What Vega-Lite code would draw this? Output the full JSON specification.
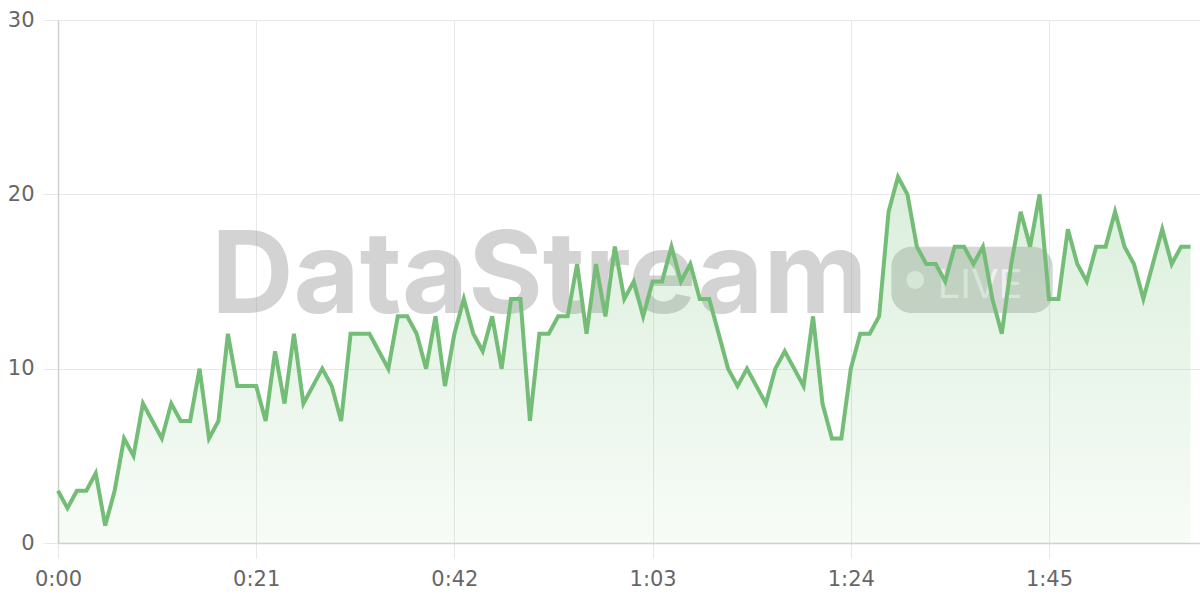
{
  "$schema": "https://vega.github.io/schema/vega-lite/v6.json",
  "width": 1142,
  "height": 523,
  "autosize": "none",
  "padding": {"left": 58, "top": 20, "right": 0, "bottom": 57},
  "background": "white",
  "config": {
    "view": {"stroke": null},
    "axis": {
      "gridColor": "#e8e8e8",
      "gridWidth": 1,
      "domainColor": "#d0d0d0",
      "domainWidth": 1.5,
      "tickColor": "#e8e8e8",
      "tickSize": 15,
      "tickWidth": 1,
      "labelFont": "DejaVu Sans",
      "labelFontSize": 21,
      "labelColor": "#666666",
      "labelFlush": false,
      "title": null
    }
  },
  "datasets": {
    "series": [
      {"t": 0, "v": 3}, {"t": 1, "v": 2}, {"t": 2, "v": 3}, {"t": 3, "v": 3}, {"t": 4, "v": 4},
      {"t": 5, "v": 1}, {"t": 6, "v": 3}, {"t": 7, "v": 6}, {"t": 8, "v": 5}, {"t": 9, "v": 8},
      {"t": 10, "v": 7}, {"t": 11, "v": 6}, {"t": 12, "v": 8}, {"t": 13, "v": 7}, {"t": 14, "v": 7},
      {"t": 15, "v": 10}, {"t": 16, "v": 6}, {"t": 17, "v": 7}, {"t": 18, "v": 12}, {"t": 19, "v": 9},
      {"t": 20, "v": 9}, {"t": 21, "v": 9}, {"t": 22, "v": 7}, {"t": 23, "v": 11}, {"t": 24, "v": 8},
      {"t": 25, "v": 12}, {"t": 26, "v": 8}, {"t": 27, "v": 9}, {"t": 28, "v": 10}, {"t": 29, "v": 9},
      {"t": 30, "v": 7}, {"t": 31, "v": 12}, {"t": 32, "v": 12}, {"t": 33, "v": 12}, {"t": 34, "v": 11},
      {"t": 35, "v": 10}, {"t": 36, "v": 13}, {"t": 37, "v": 13}, {"t": 38, "v": 12}, {"t": 39, "v": 10},
      {"t": 40, "v": 13}, {"t": 41, "v": 9}, {"t": 42, "v": 12}, {"t": 43, "v": 14}, {"t": 44, "v": 12},
      {"t": 45, "v": 11}, {"t": 46, "v": 13}, {"t": 47, "v": 10}, {"t": 48, "v": 14}, {"t": 49, "v": 14},
      {"t": 50, "v": 7}, {"t": 51, "v": 12}, {"t": 52, "v": 12}, {"t": 53, "v": 13}, {"t": 54, "v": 13},
      {"t": 55, "v": 16}, {"t": 56, "v": 12}, {"t": 57, "v": 16}, {"t": 58, "v": 13}, {"t": 59, "v": 17},
      {"t": 60, "v": 14}, {"t": 61, "v": 15}, {"t": 62, "v": 13}, {"t": 63, "v": 15}, {"t": 64, "v": 15},
      {"t": 65, "v": 17}, {"t": 66, "v": 15}, {"t": 67, "v": 16}, {"t": 68, "v": 14}, {"t": 69, "v": 14},
      {"t": 70, "v": 12}, {"t": 71, "v": 10}, {"t": 72, "v": 9}, {"t": 73, "v": 10}, {"t": 74, "v": 9},
      {"t": 75, "v": 8}, {"t": 76, "v": 10}, {"t": 77, "v": 11}, {"t": 78, "v": 10}, {"t": 79, "v": 9},
      {"t": 80, "v": 13}, {"t": 81, "v": 8}, {"t": 82, "v": 6}, {"t": 83, "v": 6}, {"t": 84, "v": 10},
      {"t": 85, "v": 12}, {"t": 86, "v": 12}, {"t": 87, "v": 13}, {"t": 88, "v": 19}, {"t": 89, "v": 21},
      {"t": 90, "v": 20}, {"t": 91, "v": 17}, {"t": 92, "v": 16}, {"t": 93, "v": 16}, {"t": 94, "v": 15},
      {"t": 95, "v": 17}, {"t": 96, "v": 17}, {"t": 97, "v": 16}, {"t": 98, "v": 17}, {"t": 99, "v": 14},
      {"t": 100, "v": 12}, {"t": 101, "v": 16}, {"t": 102, "v": 19}, {"t": 103, "v": 17}, {"t": 104, "v": 20},
      {"t": 105, "v": 14}, {"t": 106, "v": 14}, {"t": 107, "v": 18}, {"t": 108, "v": 16}, {"t": 109, "v": 15},
      {"t": 110, "v": 17}, {"t": 111, "v": 17}, {"t": 112, "v": 19}, {"t": 113, "v": 17}, {"t": 114, "v": 16},
      {"t": 115, "v": 14}, {"t": 116, "v": 16}, {"t": 117, "v": 18}, {"t": 118, "v": 16}, {"t": 119, "v": 17},
      {"t": 120, "v": 17}
    ],
    "brand": [{"name": "DataStream", "badge": "LIVE"}]
  },
  "layer": [
    {
      "data": {"name": "brand"},
      "mark": {"type": "text", "font": "Inter", "fontWeight": 700, "fontSize": 114, "align": "center", "baseline": "alphabetic", "fill": "#888888", "opacity": 0.36, "letterSpacing": -1},
      "encoding": {
        "x": {"datum": 51, "type": "quantitative"},
        "y": {"datum": 13.2, "type": "quantitative"},
        "text": {"field": "name"}
      }
    },
    {
      "data": {"name": "brand"},
      "mark": {"type": "rect", "cornerRadius": 20, "fill": "#888888", "opacity": 0.34},
      "encoding": {
        "x": {"datum": 88.3, "type": "quantitative"},
        "x2": {"datum": 105.4},
        "y": {"datum": 17.0, "type": "quantitative"},
        "y2": {"datum": 13.2}
      }
    },
    {
      "data": {"name": "brand"},
      "mark": {"type": "point", "shape": "circle", "filled": true, "fill": "#ffffff", "opacity": 0.6, "size": 320, "strokeWidth": 0},
      "encoding": {
        "x": {"datum": 90.83, "type": "quantitative"},
        "y": {"datum": 15.09, "type": "quantitative"}
      }
    },
    {
      "data": {"name": "brand"},
      "mark": {"type": "text", "font": "Inter", "fontWeight": 400, "fontSize": 40, "align": "left", "baseline": "alphabetic", "fill": "#ffffff", "opacity": 0.62, "letterSpacing": 9},
      "encoding": {
        "x": {"datum": 93.2, "type": "quantitative"},
        "y": {"datum": 14.05, "type": "quantitative"},
        "text": {"field": "badge"}
      }
    },
    {
      "data": {"name": "series"},
      "mark": {
        "type": "area",
        "color": {
          "gradient": "linear",
          "x1": 0, "y1": 0, "x2": 0, "y2": 1,
          "stops": [
            {"offset": 0, "color": "rgba(102,187,106,0.24)"},
            {"offset": 1, "color": "rgba(102,187,106,0.05)"}
          ]
        }
      },
      "encoding": {
        "x": {
          "field": "t", "type": "quantitative",
          "scale": {"domain": [0, 121], "nice": false, "zero": false},
          "axis": {
            "values": [0, 21, 42, 63, 84, 105],
            "labelExpr": "floor(datum.value / 60) + ':' + (datum.value % 60 < 10 ? '0' : '') + (datum.value % 60)",
            "labelPadding": 10,
            "grid": true
          }
        },
        "y": {
          "field": "v", "type": "quantitative",
          "scale": {"domain": [0, 30], "nice": false},
          "axis": {"values": [0, 10, 20, 30], "labelPadding": 9, "grid": true}
        }
      }
    },
    {
      "data": {"name": "series"},
      "mark": {"type": "line", "color": "#74bd77", "strokeWidth": 4, "strokeJoin": "miter"},
      "encoding": {
        "x": {"field": "t", "type": "quantitative"},
        "y": {"field": "v", "type": "quantitative"}
      }
    }
  ]
}
